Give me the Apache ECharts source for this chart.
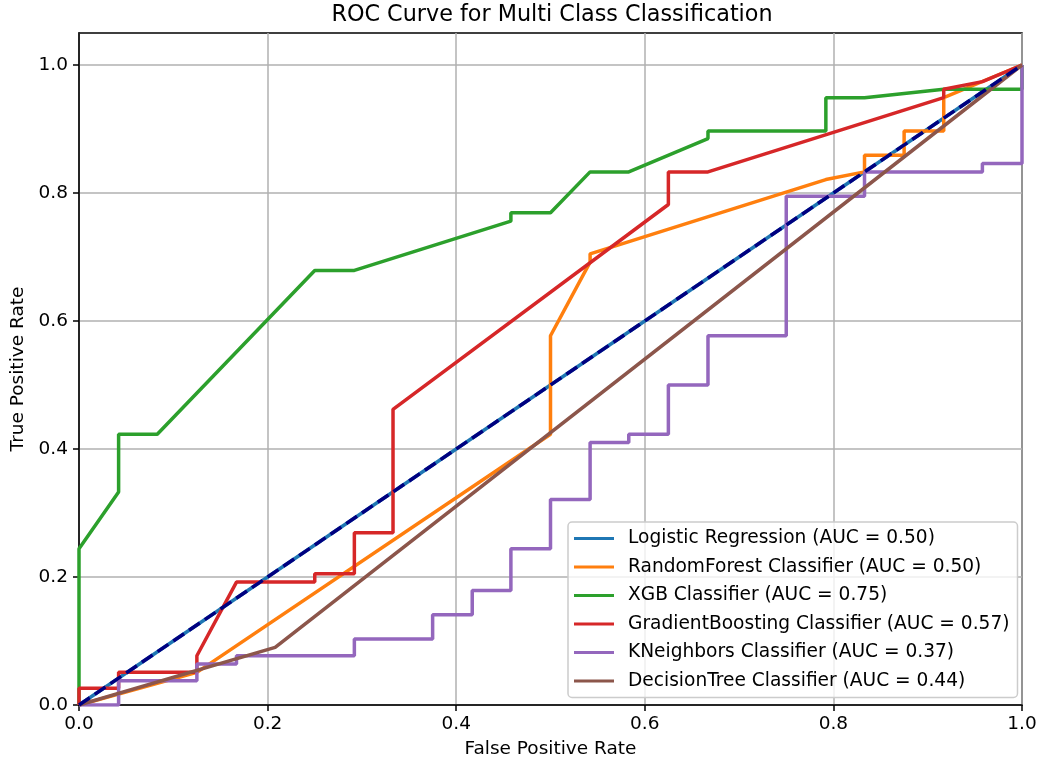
<!DOCTYPE html>
<html>
<head>
<meta charset="utf-8">
<script src="https://cdn.jsdelivr.net/npm/echarts@6/dist/echarts.min.js"></script>
<style>
  html, body { margin: 0; padding: 0; background: #fff; }
  #roc { width: 1043px; height: 765px; }
</style>
</head>
<body>
<div id="roc"></div>
<script>
var myChart = echarts.init(document.getElementById('roc'));

// ROC points, [false positive rate, true positive rate]
var logisticPts = [[0, 0], [1, 1]];
var forestPts = [[0, 0], [0.125, 0.051], [0.5, 0.423], [0.5, 0.577], [0.542, 0.692], [0.542, 0.705],
    [0.792, 0.821], [0.833, 0.833], [0.833, 0.859], [0.875, 0.859], [0.875, 0.897], [0.917, 0.897],
    [0.917, 0.949], [1, 1]];
var xgbPts = [[0, 0], [0, 0.244], [0.042, 0.333], [0.042, 0.423], [0.083, 0.423], [0.25, 0.679],
    [0.292, 0.679], [0.458, 0.756], [0.458, 0.769], [0.5, 0.769], [0.542, 0.833], [0.583, 0.833],
    [0.667, 0.885], [0.667, 0.897], [0.792, 0.897], [0.792, 0.949], [0.833, 0.949], [0.917, 0.962],
    [1, 0.962], [1, 1]];
var gbPts = [[0, 0], [0, 0.026], [0.042, 0.026], [0.042, 0.051], [0.125, 0.051], [0.125, 0.077],
    [0.167, 0.192], [0.25, 0.192], [0.25, 0.205], [0.292, 0.205], [0.292, 0.269], [0.333, 0.269],
    [0.333, 0.462], [0.625, 0.782], [0.625, 0.833], [0.667, 0.833], [0.917, 0.949], [0.917, 0.962],
    [0.958, 0.974], [1, 1]];
var knnPts = [[0, 0], [0.042, 0], [0.042, 0.038], [0.125, 0.038], [0.125, 0.064], [0.167, 0.064],
    [0.167, 0.077], [0.292, 0.077], [0.292, 0.103], [0.375, 0.103], [0.375, 0.141], [0.417, 0.141],
    [0.417, 0.179], [0.458, 0.179], [0.458, 0.244], [0.5, 0.244], [0.5, 0.321], [0.542, 0.321],
    [0.542, 0.41], [0.583, 0.41], [0.583, 0.423], [0.625, 0.423], [0.625, 0.5], [0.667, 0.5],
    [0.667, 0.577], [0.75, 0.577], [0.75, 0.795], [0.833, 0.795], [0.833, 0.833], [0.958, 0.833],
    [0.958, 0.846], [1, 0.846], [1, 1]];
var treePts = [[0, 0], [0.208, 0.09], [1, 1]];
var chancePts = [[0, 0], [1, 1]];

var names = ['Logistic Regression (AUC = 0.50)', 'RandomForest Classifier (AUC = 0.50)',
    'XGB Classifier (AUC = 0.75)', 'GradientBoosting Classifier (AUC = 0.57)',
    'KNeighbors Classifier (AUC = 0.37)', 'DecisionTree Classifier (AUC = 0.44)'];
var curves = [logisticPts, forestPts, xgbPts, gbPts, knnPts, treePts];
var cs = ['#1f77b4', '#ff7f0e', '#2ca02c', '#d62728', '#9467bd', '#8c564b'];
var tickVals = [0, 0.2, 0.4, 0.6, 0.8, 1.0];

var font = 'DejaVu Sans';
var option = {
    animation: false,
    title: {
        text: 'ROC Curve for Multi Class Classification',
        left: 552,
        top: 4,
        padding: 0,
        textAlign: 'center',
        textStyle: { fontFamily: font, fontSize: 22.3, fontWeight: 'normal', color: '#000' }
    },
    legend: {
        data: names,
        orient: 'vertical',
        left: 568,
        top: 522,
        padding: [7, 8, 7, 6],
        itemGap: 9.5,
        itemWidth: 40,
        itemHeight: 3,
        icon: 'rect',
        backgroundColor: 'rgba(255,255,255,0.8)',
        borderColor: '#cccccc',
        borderWidth: 1.5,
        borderRadius: 4,
        textStyle: { fontFamily: font, fontSize: 18.6, lineHeight: 18.5, color: '#000', padding: [0, 0, 0, 9] }
    },
    grid: {
        left: 79, right: 21, top: 33, bottom: 60,
        show: true,
        borderColor: '#000',
        borderWidth: 1.5
    },
    xAxis: {
        type: 'value',
        min: 0, max: 1, interval: 0.2,
        name: 'False Positive Rate',
        nameLocation: 'middle',
        nameGap: 35,
        nameTextStyle: { fontFamily: font, fontSize: 18.5, color: '#000' },
        axisLine: { lineStyle: { color: '#000', width: 1.5 } },
        axisTick: { show: true, length: 6, lineStyle: { color: '#000', width: 1.5 } },
        axisLabel: {
            fontFamily: font, fontSize: 18.5, color: '#000', margin: 10,
            formatter: function (v) { return v.toFixed(1); }
        },
        splitLine: { show: true, lineStyle: { color: '#b0b0b0', width: 1.5 } }
    },
    yAxis: {
        type: 'value',
        min: 0, max: 1.05, interval: 0.2,
        name: 'True Positive Rate',
        nameLocation: 'middle',
        nameGap: 48,
        nameTextStyle: { fontFamily: font, fontSize: 18.5, color: '#000' },
        axisLine: { show: true, lineStyle: { color: '#000', width: 1.5 } },
        axisTick: { show: true, length: 6, customValues: tickVals, lineStyle: { color: '#000', width: 1.5 } },
        axisLabel: {
            fontFamily: font, fontSize: 18.5, color: '#000', margin: 11,
            customValues: tickVals,
            formatter: function (v) { return v.toFixed(1); }
        },
        splitLine: { show: true, lineStyle: { color: '#b0b0b0', width: 1.5 } }
    },
    series: []
};

for (var i = 0; i < names.length; i++) {
    option.series.push({
        name: names[i],
        type: 'line',
        showSymbol: false,
        symbol: 'none',
        color: cs[i],
        lineStyle: { color: cs[i], width: 3.5 },
        data: curves[i]
    });
}

// dashed chance diagonal
option.series.push({
    name: 'chance',
    type: 'line',
    showSymbol: false,
    symbol: 'none',
    color: '#000080',
    lineStyle: { color: '#000080', width: 3.5, type: [13, 6] },
    data: chancePts
});

myChart.setOption(option);
</script>
</body>
</html>
